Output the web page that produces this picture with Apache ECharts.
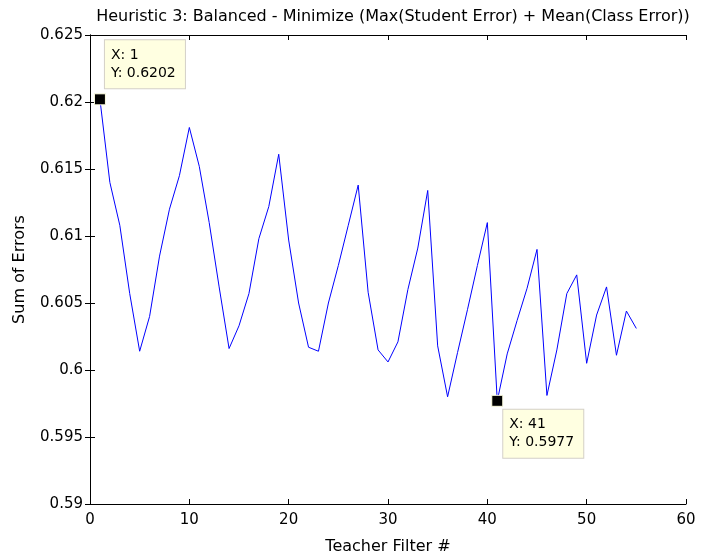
<!DOCTYPE html>
<html><head><meta charset="utf-8">
<script src="https://cdn.jsdelivr.net/npm/echarts@6/dist/echarts.min.js"></script>
<style>html,body{margin:0;padding:0;background:#fff}#c{width:702px;height:554px}</style>
</head><body><div id="c"></div>
<script>
const titleText = 'Heuristic 3: Balanced - Minimize (Max(Student Error) + Mean(Class Error))';
const xName = 'Teacher Filter #';
const yName = 'Sum of Errors';
const filters = [1,2,3,4,5,6,7,8,9,10,11,12,13,14,15,16,17,18,19,20,21,22,23,24,25,26,27,28,29,30,31,32,33,34,35,36,37,38,39,40,41,42,43,44,45,46,47,48,49,50,51,52,53,54,55];
const errors = [0.6202,0.6140,0.6108,0.6057,0.6014,0.6040,0.6085,0.6120,0.6145,0.6181,
  0.6152,0.6110,0.6062,0.6016,0.6033,0.6057,0.6098,0.6122,0.6161,0.6097,
  0.6050,0.6017,0.6014,0.6050,0.6078,0.6108,0.6138,0.6058,0.6015,0.6006,
  0.6021,0.6060,0.6091,0.6134,0.6018,0.5980,0.6013,0.6045,0.6078,0.6110,
  0.5977,0.6012,0.6037,0.6061,0.6090,0.5981,0.6015,0.6057,0.6071,0.6005,
  0.6041,0.6062,0.6011,0.6044,0.6031];
const markedIdx = [0, 40];

const font = '"DejaVu Sans",Arial,sans-serif';
const chart = echarts.init(document.getElementById('c'));
const fmtY = v => parseFloat(v.toFixed(3)).toString();
const axisCommon = {
  axisLine:{show:true,lineStyle:{color:'#000',width:1}},
  axisTick:{show:true,inside:true,length:5,lineStyle:{color:'#000'}},
  splitLine:{show:false}
};
const labelPos = [[11,-53],[12,15]];
chart.setOption({
  animation:false,
  title:{text:titleText,left:388,top:4,textAlign:'center',
    textStyle:{fontFamily:font,fontSize:16,fontWeight:'normal',color:'#000'}},
  grid:{left:90,right:16,top:35,bottom:50,containLabel:false,outerBoundsMode:'none'},
  xAxis:[
    Object.assign({type:'value',min:0,max:60,interval:10,position:'bottom',
      name:xName,nameLocation:'middle',nameGap:35,
      nameTextStyle:{fontFamily:font,fontSize:16,color:'#000'},
      axisLabel:{fontFamily:font,fontSize:15,color:'#000',margin:9}},axisCommon),
    Object.assign({type:'value',min:0,max:60,interval:10,position:'top',
      axisLabel:{show:false}},axisCommon)
  ],
  yAxis:[
    Object.assign({type:'value',min:0.59,max:0.625,interval:0.005,position:'left',
      name:yName,nameLocation:'middle',nameGap:62,
      nameTextStyle:{fontFamily:font,fontSize:16,color:'#000'},
      axisLabel:{fontFamily:font,fontSize:15,color:'#000',margin:7,formatter:fmtY}},axisCommon),
    Object.assign({type:'value',min:0.59,max:0.625,interval:0.005,position:'right',
      axisLabel:{show:false}},axisCommon)
  ],
  series:[{
    type:'line',
    data:filters.map((x,i)=>[x,errors[i]]),
    showSymbol:false,
    lineStyle:{color:'#0000ff',width:1},
    markPoint:{
      symbol:'rect',symbolSize:11,
      itemStyle:{color:'#000',borderColor:'#ffffe1',borderWidth:1},
      data:markedIdx.map((i,k)=>({
        coord:[filters[i],errors[i]],
        label:{show:true,position:labelPos[k],
          formatter:'X: '+filters[i]+'\nY: '+errors[i].toFixed(4),
          fontFamily:font,fontSize:14,color:'#000',lineHeight:18,
          backgroundColor:'#ffffe1',borderColor:'#d4d0c8',borderWidth:1,
          padding:[6,5,6,6],width:69,align:'left'}
      }))
    }
  }]
});
</script></body></html>
